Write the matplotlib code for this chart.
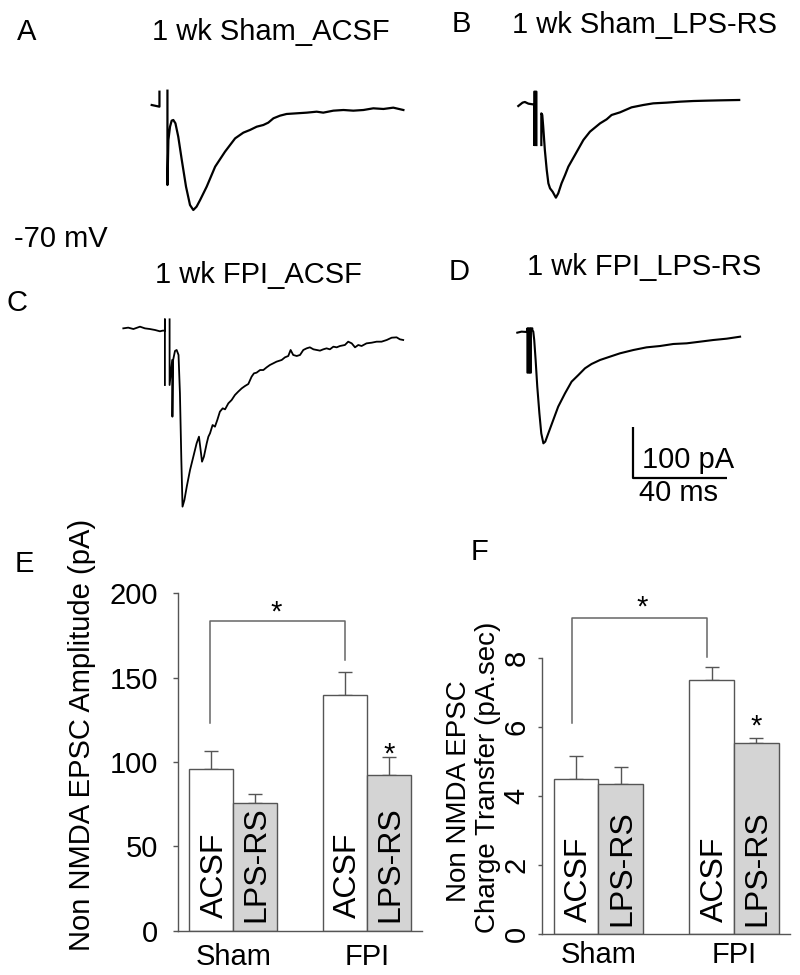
import matplotlib
matplotlib.use("Agg")
import matplotlib.pyplot as plt
import numpy as np

plt.rcParams['font.family'] = ['Liberation Sans', 'DejaVu Sans']

# ---------------- data ----------------
# example traces: time (ms) and current (pA) relative to baseline
tA_hook = [0, 3.3, 3.3]
iA_hook = [9.8, 6.5, 35.9]
tA = [6.7, 6.7, 7.1, 7.8, 8.5, 9.2, 10.1, 11.3, 12.8, 14.6, 16.3, 17.7, 19.1, 20.6, 23.4, 27.0, 31.2, 35.5, 39.0,
      41.8, 44.7, 47.5, 49.6, 51.8, 54.6, 57.4, 61.7, 66.0, 70.2, 73.0, 77.3, 81.6, 85.8, 90.1, 94.3, 98.6, 102.8, 107.1]
iA = [37.9, -147.1, -58.8, -32.7, -20.9, -19.6, -26.1, -52.3, -98.0, -150.3, -186.3, -196.1, -189.5, -176.5, -150.3,
      -111.1, -81.7, -55.6, -44.4, -39.2, -32.7, -29.4, -24.8, -16.3, -11.1, -7.8, -6.5, -5.2, -3.3, -5.2, -1.3, 0,
      -1.3, 0, 3.3, 2.0, 4.6, 0]

tB_art = [0, 1.8, 2.8, 4.3, 6.1, 6.8, 6.8, 6.8, 7.7, 7.7]
iB_art = [-5.9, 0.7, 2.0, -1.3, -2.6, -2.6, -82.4, 22.2, 22.2, -82.4]
tB = [9.8, 9.8, 10.2, 10.6, 11.3, 12.1, 12.8, 13.5, 14.6, 16.0, 17.0, 18.4, 19.9, 21.3, 24.1, 27.7, 30.5, 34.8,
      37.6, 39.7, 43.3, 48.2, 53.2, 57.4, 63.1, 68.8, 74.5, 80.1, 85.8, 94.0]
iB = [-82.4, -20.3, -23.5, -46.4, -92.2, -131.4, -157.5, -167.3, -173.9, -185.6, -177.1, -157.5, -141.2, -124.8,
      -102.0, -72.5, -56.2, -39.9, -32.0, -23.5, -18.3, -8.5, -3.9, -0.7, 0.7, 2.6, 3.9, 4.6, 5.2, 5.9]

tC_art = [0, 2.1, 4.3, 7.1, 9.2, 11.3, 13.5, 15.6, 16.7, 17.7, 17.7, 17.7]
iC_art = [-0.7, 0.7, -2.0, 2.6, -0.7, -2.0, -3.9, -6.5, -5.2, -5.0, 17.0, -111.8]
tC = [19.7, 19.7, 20.8, 20.9, 21.2, 22.0, 22.7, 23.5, 24.1, 24.7, 25.2, 26.0, 27.0, 28.4, 29.8, 31.2, 32.2, 32.9,
      33.5, 34.3, 35.5, 36.2, 36.9, 38.0, 39.0, 40.0, 41.1, 42.3, 43.3, 44.7, 46.1, 47.5, 48.9, 50.4, 51.8, 53.2,
      54.6, 55.6, 56.7, 58.2, 59.6, 61.0, 62.4, 63.8, 65.2, 67.4, 68.8, 70.2, 71.2, 72.3, 73.8, 75.2, 76.6, 78.0,
      79.4, 80.9, 82.3, 83.7, 85.1, 86.5, 87.9, 89.4, 90.8, 92.2, 94.3, 95.7, 97.2, 98.6, 100.0, 101.4, 103.5,
      105.7, 107.8, 109.9, 112.1, 114.2, 116.3, 117.7, 119.1]
iC = [17.0, -111.8, -62.7, -173.9, -62.7, -45.0, -43.1, -52.9, -128.1, -258.8, -350.3, -337.3, -311.1, -278.4,
      -252.3, -226.1, -213.1, -239.2, -262.1, -252.3, -226.1, -213.1, -206.5, -190.2, -193.5, -180.4, -164.1,
      -157.5, -159.5, -147.7, -141.2, -131.4, -124.8, -118.3, -113.7, -109.8, -95.4, -88.9, -87.6, -82.4, -82.4,
      -77.1, -72.5, -69.3, -66.0, -62.7, -57.5, -54.9, -43.1, -52.9, -54.9, -52.9, -43.1, -39.9, -37.9, -41.8,
      -43.1, -44.4, -41.8, -39.9, -41.8, -36.6, -37.9, -35.3, -33.3, -26.8, -30.1, -37.9, -33.3, -35.3, -30.1,
      -28.8, -26.8, -26.8, -23.5, -19.0, -18.3, -22.2, -23.5]

tD = [0, 1.8, 4.0, 4.3, 4.3, 4.8, 4.8, 5.3, 5.3, 5.8, 5.8, 6.4, 6.4, 6.8, 7.2, 7.8, 8.5, 9.4, 10.2, 11.1, 11.9,
      13.2, 15.3, 17.4, 20.3, 23.1, 26.0, 28.8, 31.6, 35.2, 39.4, 43.7, 49.4, 55.0, 60.7, 66.4, 72.1, 77.7, 83.4,
      89.1, 94.8]
iD = [-1.3, 0.7, 0.0, 7.2, -79.7, -79.7, 7.2, 7.2, -79.7, -79.7, 7.2, 7.2, 3.9, 0.7, -15.7, -54.9, -107.2, -159.5,
      -198.7, -218.3, -215.0, -198.7, -172.5, -146.4, -120.3, -97.4, -84.3, -71.2, -62.7, -54.9, -48.4, -41.8,
      -35.3, -30.1, -27.5, -23.5, -22.2, -19.0, -15.7, -13.1, -9.2]

SCALE_PA = 100
SCALE_MS = 40

groups = ['Sham', 'FPI']
treatments = ['ACSF', 'LPS-RS']
amp_acsf = [96.0, 139.5]
amp_acsf_err = [10.3, 13.7]
amp_lps = [75.5, 92.3]
amp_lps_err = [5.4, 10.8]
chg_acsf = [4.51, 7.36]
chg_acsf_err = [0.66, 0.38]
chg_lps = [4.35, 5.54]
chg_lps_err = [0.50, 0.15]

# ---------------- layout ----------------
W, H = 800, 975
fig = plt.figure(figsize=(8, 9.75), dpi=100)
PX_PER_MS = 2.35
PX_PER_PA = 0.51
FS = 21


def fx(px):
    return px / W


def fy(py):
    return 1 - py / H


def trace_axes(x0, y0, box):
    left, top, right, bottom = box
    ax = fig.add_axes([fx(left), fy(bottom), (right - left) / W, (bottom - top) / H])
    ax.set_xlim((left - x0) / PX_PER_MS, (right - x0) / PX_PER_MS)
    ax.set_ylim((y0 - bottom) / PX_PER_PA, (y0 - top) / PX_PER_PA)
    ax.axis('off')
    return ax


axA = trace_axes(151.7, 110, (140, 80, 420, 225))
axA.plot(tA_hook, iA_hook, color='black', lw=1.6, clip_on=False)
axA.plot(tA, iA, color='black', lw=1.6, clip_on=False)

axB = trace_axes(518.3, 103, (505, 80, 750, 215))
axB.plot(tB_art, iB_art, color='black', lw=1.6, clip_on=False)
axB.plot(tB, iB, color='black', lw=1.6, clip_on=False)

axC = trace_axes(123.3, 328, (110, 310, 415, 520))
axC.plot(tC_art, iC_art, color='black', lw=1.3, clip_on=False)
axC.plot(tC, iC, color='black', lw=1.3, clip_on=False)

axD = trace_axes(517.3, 332, (505, 315, 745, 510))
axD.plot(tD, iD, color='black', lw=1.5, clip_on=False)
# scale bar (corner placed at pixel 633, 478)
sb_t = (633.3 - 517.3) / PX_PER_MS
sb_i = (332 - 478) / PX_PER_PA
axD.plot([sb_t, sb_t, sb_t + SCALE_MS], [sb_i + SCALE_PA, sb_i, sb_i], color='black', lw=1.6,
         clip_on=False, solid_capstyle='butt')


def ftext(px, py, s, size=FS, **kw):
    fig.text(fx(px), fy(py), s, fontsize=size, ha='left', va='baseline', **kw)


ftext(17, 40, 'A')
ftext(152, 40, '1 wk Sham_ACSF')
ftext(452, 32, 'B')
ftext(512, 33, '1 wk Sham_LPS-RS')
ftext(14, 247, '-70 mV')
ftext(7, 311, 'C')
ftext(155, 283, '1 wk FPI_ACSF')
ftext(449, 280, 'D')
ftext(527, 275, '1 wk FPI_LPS-RS')
ftext(642, 468, f'{SCALE_PA} pA')
ftext(639, 501, f'{SCALE_MS} ms')
ftext(15, 572, 'E')
ftext(471, 560, 'F')

EDGE = '#555555'
GRAY = '#d4d4d4'
BW = 0.33


def bar_panel(ax, acsf, acsf_err, lps, lps_err, ymax, label_pad):
    x = np.arange(len(groups))
    xa, xl = x - BW / 2, x + BW / 2
    ax.bar(xa, acsf, width=BW, color='white', edgecolor=EDGE, linewidth=1.0, zorder=2)
    ax.bar(xl, lps, width=BW, color=GRAY, edgecolor=EDGE, linewidth=1.0, zorder=2)
    ax.errorbar(xa, acsf, yerr=[np.zeros(len(x)), acsf_err], fmt='none', ecolor=EDGE, elinewidth=1.0,
                capsize=4.7, capthick=1.0, zorder=1)
    ax.errorbar(xl, lps, yerr=[np.zeros(len(x)), lps_err], fmt='none', ecolor=EDGE, elinewidth=1.0,
                capsize=4.7, capthick=1.0, zorder=1)
    for xi in xa:
        ax.annotate(treatments[0], xy=(xi, 0), xytext=(2.5, 9), textcoords='offset points', rotation=90,
                    ha='center', va='bottom', fontsize=23, zorder=3)
    for xi in xl:
        ax.annotate(treatments[1], xy=(xi, 0), xytext=(1.0, 6), textcoords='offset points', rotation=90,
                    ha='center', va='bottom', fontsize=23, zorder=3)
    ax.set_ylim(0, ymax)
    ax.set_xticks(x)
    ax.set_xticklabels(groups, fontsize=FS)
    ax.tick_params(axis='x', length=0, pad=label_pad)
    for s in ['top', 'right']:
        ax.spines[s].set_visible(False)
    for s in ['left', 'bottom']:
        ax.spines[s].set_color(EDGE)
        ax.spines[s].set_linewidth(1.0)
    ax.patch.set_alpha(0)


# Panel E
axE = fig.add_axes([fx(178.3), fy(930.7), (421.7 - 178.3) / W, (930.7 - 593.3) / H])
bar_panel(axE, amp_acsf, amp_acsf_err, amp_lps, amp_lps_err, 200, 9)
axE.set_xlim(-0.412, 1.412)
axE.set_yticks([0, 50, 100, 150, 200])
axE.tick_params(axis='y', length=3.6, width=1.0, color=EDGE, pad=11, labelsize=FS, direction='out')
axE.plot([-0.175, -0.175, 0.835, 0.835], [122.9, 183.8, 183.8, 160.5], color='#666666', lw=1.1, clip_on=False)
axE.text(0.32, 183.6, '*', fontsize=FS, ha='center', va='baseline')
axE.text(1.165, 99.6, '*', fontsize=FS, ha='center', va='baseline')
fig.text(fx(82), fy(735), 'Non NMDA EPSC Amplitude (pA)', rotation=90, fontsize=21, ha='center', va='center')

# Panel F
axF = fig.add_axes([fx(541.7), fy(934), (790 - 541.7) / W, (934 - 658.3) / H])
bar_panel(axF, chg_acsf, chg_acsf_err, chg_lps, chg_lps_err, 8, 5)
axF.set_xlim(-0.417, 1.413)
axF.set_yticks([0, 2, 4, 6, 8])
axF.tick_params(axis='y', length=3.0, width=1.0, color=EDGE, pad=5, labelsize=FS, direction='out')
for lab in axF.get_yticklabels():
    lab.set_rotation(90)
    lab.set_va('center')
axF.plot([-0.196, -0.196, 0.80, 0.80], [6.13, 9.17, 9.17, 8.03], color='#666666', lw=1.1, clip_on=False)
axF.text(0.327, 9.23, '*', fontsize=FS, ha='center', va='baseline')
axF.text(1.165, 5.80, '*', fontsize=FS, ha='center', va='baseline')
fig.text(fx(459), fy(791), 'Non NMDA EPSC', rotation=90, fontsize=20, ha='center', va='center')
fig.text(fx(488), fy(777), 'Charge Transfer (pA.sec)', rotation=90, fontsize=20, ha='center', va='center')

fig.savefig('out.png', dpi=100, facecolor='white')
